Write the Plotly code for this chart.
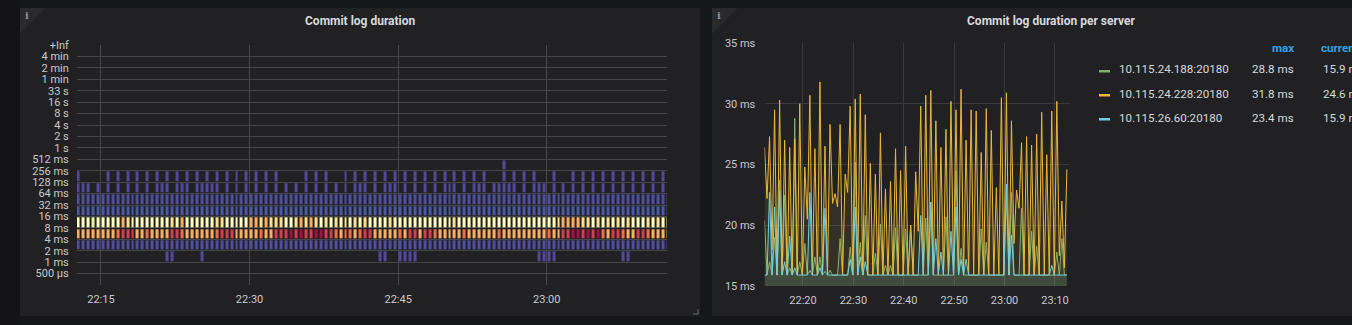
import plotly.graph_objects as go
from datetime import datetime, timedelta

# ---------------- DATA ----------------
# Heatmap y-axis bucket labels (index 0 .. 20)
BUCKET_LABELS = ["500 µs", "1 ms", "2 ms", "4 ms", "8 ms", "16 ms", "32 ms", "64 ms",
                 "128 ms", "256 ms", "512 ms", "1 s", "2 s", "4 s", "8 s", "16 s",
                 "33 s", "1 min", "2 min", "4 min", "+Inf"]

HEAT_START = datetime(2019, 5, 20, 22, 12, 41)   # first column (30 s columns)
HEAT_STEP_S = 30

# per-column level codes for each bucket row ('.' = empty cell)
ROW_2_1MS = ".......... ........00 .....0.... .......... .......... .......... .00..0000. .......... .......... ...0000... .......... 00........"
ROW_4_2MS = "1111111111 1111111111 1111111111 1111111111 1111111111 1111111111 1111111111 1111111111 1111111111 1111111111 1111111111 1111111111"
ROW_8_4MS = "7777777789 9977877779 9877777789 9977777877 999a9a99aa 9987887899 7777787997 9987777787 7777787777 7777787799 aa9a9a8799 8779987777"
ROW_16_8MS = "5554555557 6555555556 5755555566 5555577676 6655676765 6565656565 5556555555 5555556555 5555555555 5555555677 7766565656 5655565656"
ROW_32_16MS = "2222222222 2222222222 2222222222 2222222222 2222222222 2222222222 2222222222 2222222222 2222222222 2222222222 2222222222 2222222222"
ROW_64_32MS = "1111111111 1111111111 1111111111 1111111111 1111111111 1111111111 1111111111 1111111111 1111111111 1111111111 1111111111 1111111111"
ROW_128_64MS = "000.0.0.0. 0.0.0.000. 000.00000. 0.0.0.0.0. 0.0.0.0.0. 0.0.0.000. 0.000.0.0. 0.0.000.0. 000.00000. 0.000.0.0. 0.0.0.0.0. 0.0.0.0.0."
ROW_256_128MS = "0.....0.0. 0.0.0.0.0. 0.0.0.0.0. 0.0.0.0.0. 0.....0.0. 0...0.0.0. 0.0.0.0.0. 0.0.0.0.0. 0.0...0.0. 0.0...0... 0.0.0.0.0. 0.0.0.0.0."
ROW_512_256MS = ".......... .......... .......... .......... .......... .......... .......... .......... ......0... .......... .......... .........."

ROW_CENTERS = [1.5, 2.5, 3.5, 4.5, 5.5, 6.5, 7.5, 8.5, 9.5]
ROW_CODES = [ROW_2_1MS, ROW_4_2MS, ROW_8_4MS, ROW_16_8MS, ROW_32_16MS,
             ROW_64_32MS, ROW_128_64MS, ROW_256_128MS, ROW_512_256MS]
LEVEL_VALUE = {"0": 0.0, "1": 0.01, "2": 0.025, "4": 0.42, "5": 0.5, "6": 0.6,
               "7": 0.7, "8": 0.8, "9": 0.9, "a": 0.98}

# Spectral (reversed) colour scheme
SPECTRAL = ["#54489a", "#3288bd", "#66c2a5", "#abdda4", "#e6f598", "#ffffbf",
            "#fee08b", "#fdae61", "#f46d43", "#d53e4f", "#9e0142"]

# Time series (30 s steps)
TS_START = datetime(2019, 5, 20, 22, 12, 22)
TS_STEP_S = 30
SERIES_NAMES = ["10.115.24.188:20180", "10.115.24.228:20180", "10.115.26.60:20180"]
SERIES_COLORS = ["#7eb26d", "#eab839", "#6ed0e0"]
SERIES_MAX = ["28.8 ms", "31.8 ms", "23.4 ms"]
SERIES_CURRENT = ["15.9 ms", "24.6 ms", "15.9 ms"]

GREEN = [20.4, 15.9, 17.0, 15.9, 19.0, 15.9, 23.7, 15.9, 22.5, 15.9,
         16.5, 15.9, 28.8, 15.9, 17.0, 15.9, 18.5, 15.9, 16.3, 15.9,
         17.4, 15.9, 17.4, 15.9, 16.2, 15.9, 16.3, 15.9, 15.9, 15.9,
         18.9, 15.9, 15.9, 15.9, 18.2, 15.9, 25.2, 15.9, 18.6, 15.9,
         20.8, 15.9, 15.9, 15.9, 17.7, 15.9, 20.1, 15.9, 16.7, 15.9,
         16.7, 15.9, 19.8, 15.9, 15.9, 15.9, 19.7, 15.9, 20.0, 15.9,
         15.9, 15.9, 15.9, 15.9, 20.6, 15.9, 21.9, 15.9, 15.9, 15.9,
         15.9, 15.9, 20.7, 15.9, 15.9, 15.9, 24.5, 15.9, 18.1, 15.9,
         15.9, 15.9, 15.9, 15.9, 15.9, 15.9, 19.7, 15.9, 18.6, 15.9,
         15.9, 15.9, 15.9, 15.9, 15.9, 15.9, 23.0, 15.9, 22.7, 15.9,
         15.9, 15.9, 21.4, 15.9, 15.9, 15.9, 19.5, 15.9, 18.3, 15.9,
         15.9, 15.9, 15.9, 15.9, 15.9, 15.9, 17.8, 15.9, 18.9, 15.9,
         15.9]

YELLOW = [26.4, 22.2, 27.3, 18.0, 29.5, 15.9, 30.3, 15.9, 27.0, 15.9,
          26.4, 15.9, 27.1, 15.9, 30.0, 15.9, 24.8, 20.5, 30.7, 15.9,
          26.3, 15.9, 31.8, 15.9, 26.5, 15.9, 28.3, 21.8, 22.6, 21.5,
          28.3, 15.9, 24.2, 22.7, 29.8, 15.9, 30.4, 15.9, 30.8, 15.9,
          29.1, 15.9, 25.1, 15.9, 24.2, 15.9, 27.6, 15.9, 23.0, 15.9,
          23.6, 15.9, 26.3, 15.9, 24.5, 15.9, 26.5, 15.9, 20.0, 15.9,
          24.4, 19.5, 29.8, 15.9, 30.7, 15.9, 31.1, 15.9, 28.6, 15.9,
          26.4, 15.9, 27.9, 15.9, 30.2, 15.9, 29.5, 15.9, 31.2, 15.9,
          27.0, 15.9, 29.5, 15.9, 29.4, 15.9, 26.0, 15.9, 29.6, 15.9,
          27.8, 15.9, 23.1, 15.9, 30.5, 15.9, 30.9, 15.9, 28.6, 18.5,
          22.9, 21.4, 26.8, 15.9, 27.3, 15.9, 26.6, 15.9, 27.5, 15.9,
          29.3, 15.9, 25.8, 15.9, 29.4, 15.9, 30.2, 17.5, 22.0, 16.5,
          24.6]

CYAN = [15.9, 15.9, 22.7, 15.9, 21.5, 15.9, 22.8, 15.9, 17.0, 15.9,
        19.1, 15.9, 16.5, 15.9, 15.9, 15.9, 15.9, 15.9, 22.7, 15.9,
        15.9, 15.9, 16.5, 15.9, 21.4, 15.9, 15.9, 15.9, 15.9, 15.9,
        15.9, 15.9, 15.9, 15.9, 17.2, 15.9, 21.5, 15.9, 17.4, 15.9,
        17.0, 15.9, 15.9, 15.9, 15.9, 15.9, 15.9, 15.9, 15.9, 15.9,
        15.9, 15.9, 15.9, 15.9, 15.9, 15.9, 15.9, 15.9, 15.9, 15.9,
        15.9, 15.9, 20.8, 15.9, 15.9, 15.9, 21.9, 15.9, 18.9, 15.9,
        17.8, 15.9, 15.9, 15.9, 19.5, 15.9, 21.5, 15.9, 17.2, 15.9,
        17.2, 15.9, 15.9, 15.9, 15.9, 15.9, 15.9, 15.9, 15.9, 15.9,
        15.9, 15.9, 15.9, 15.9, 15.9, 15.9, 23.4, 15.9, 19.2, 15.9,
        15.9, 15.9, 15.9, 15.9, 15.9, 15.9, 15.9, 15.9, 15.9, 15.9,
        15.9, 15.9, 15.9, 15.9, 16.7, 15.9, 15.9, 15.9, 15.9, 15.9,
        15.9]

# ---------------- BUILD ----------------
W, H = 1352, 325
PAGE_BG = "#161719"
PANEL_BG = "#212124"
TEXT = "#c8c9ca"
FONT = "Roboto, Helvetica Neue, Arial, sans-serif"


def fx(x):
    return x / W


def fy(y):
    return 1 - y / H


rows = [code.replace(" ", "") for code in ROW_CODES]
n_cols = len(rows[0])
heat_x = [HEAT_START + timedelta(seconds=HEAT_STEP_S * k) for k in range(n_cols)]
heat_z = [[(LEVEL_VALUE[c] if c != "." else None) for c in r] for r in rows]
colorscale = [[i / (len(SPECTRAL) - 1), c] for i, c in enumerate(SPECTRAL)]

ts_x = [TS_START + timedelta(seconds=TS_STEP_S * k) for k in range(len(YELLOW))]

fig = go.Figure()

fig.add_trace(go.Heatmap(
    x=heat_x, y=ROW_CENTERS, z=heat_z, colorscale=colorscale, zmin=0, zmax=1,
    showscale=False, xgap=2, ygap=2, hoverinfo="skip", xaxis="x", yaxis="y"))

for name, col, vals in [(SERIES_NAMES[0], SERIES_COLORS[0], GREEN),
                        (SERIES_NAMES[1], SERIES_COLORS[1], YELLOW),
                        (SERIES_NAMES[2], SERIES_COLORS[2], CYAN)]:
    r, g, b = int(col[1:3], 16), int(col[3:5], 16), int(col[5:7], 16)
    fig.add_trace(go.Scatter(
        x=ts_x, y=vals, mode="lines", name=name, line=dict(color=col, width=1),
        fill="tozeroy", fillcolor=f"rgba({r},{g},{b},0.1)", hoverinfo="skip",
        xaxis="x2", yaxis="y2", showlegend=False))

shapes = []
# left page shadow
shapes.append(dict(type="rect", xref="paper", yref="paper", x0=0, x1=fx(20), y0=0, y1=1,
                   fillcolor="#141416", line=dict(width=0), layer="below"))
# panels
shapes.append(dict(type="rect", xref="paper", yref="paper", x0=fx(20), x1=fx(700),
                   y0=fy(316), y1=fy(8), fillcolor=PANEL_BG, line=dict(width=0), layer="below"))
shapes.append(dict(type="rect", xref="paper", yref="paper", x0=fx(712), x1=fx(1400),
                   y0=fy(316), y1=fy(8), fillcolor=PANEL_BG, line=dict(width=0), layer="below"))
# info corners
for px0 in (20, 712):
    shapes.append(dict(type="path", xref="paper", yref="paper",
                       path=f"M {fx(px0)},{fy(8)} L {fx(px0 + 26)},{fy(8)} L {fx(px0)},{fy(34)} Z",
                       fillcolor="#2a2a2d", line=dict(width=0), layer="below"))
# resize handle (bottom-right of left panel)
shapes.append(dict(type="path", xref="paper", yref="paper",
                   path=f"M {fx(698)},{fy(309)} L {fx(698)},{fy(314)} L {fx(693)},{fy(314)}",
                   line=dict(color="#6a6a6e", width=1)))


def ann(text, x, y, size=11.6, color="#d8d9da", xanchor="center", family=FONT):
    return dict(text=text, x=fx(x), y=fy(y), xref="paper", yref="paper",
                xanchor=xanchor, yanchor="middle", showarrow=False,
                font=dict(size=size, color=color, family=family))


annotations = []
annotations.append(ann("<b>Commit log duration</b>", 360, 21, size=12))
annotations.append(ann("<b>Commit log duration per server</b>", 1051, 21, size=12))
for px0 in (27, 719):
    annotations.append(ann("<b>i</b>", px0, 16, size=10, color="#8e9094", family="DejaVu Serif"))

# legend table
annotations.append(ann("<b>max</b>", 1296, 48, color="#33a2e5", xanchor="right"))
annotations.append(ann("<b>current</b>", 1319, 48, color="#33a2e5", xanchor="left"))
row_y = [69.5, 93.5, 117.5]
for i in range(3):
    yy = row_y[i]
    shapes.append(dict(type="rect", xref="paper", yref="paper", x0=fx(1099), x1=fx(1110),
                       y0=fy(yy + 3), y1=fy(yy + 0.5), fillcolor=SERIES_COLORS[i], line=dict(width=0)))
    annotations.append(ann(SERIES_NAMES[i], 1117, yy, xanchor="left"))
    annotations.append(ann(SERIES_MAX[i], 1296, yy, xanchor="right"))
    annotations.append(ann(SERIES_CURRENT[i], 1321, yy, xanchor="left"))

tick_font = dict(size=11, color=TEXT, family=FONT)

fig.update_layout(
    width=W, height=H, margin=dict(l=0, r=0, t=0, b=0, pad=0, autoexpand=False),
    paper_bgcolor=PAGE_BG, plot_bgcolor=PANEL_BG, showlegend=False,
    shapes=shapes, annotations=annotations,
    xaxis=dict(domain=[fx(77), fx(667)], type="date",
               range=[datetime(2019, 5, 20, 22, 12, 35), datetime(2019, 5, 20, 23, 12, 8)],
               tickformat="%H:%M", tick0=datetime(2019, 5, 20, 22, 0), dtick=15 * 60 * 1000,
               showgrid=True, gridcolor="#46464a", gridwidth=1, zeroline=False, showline=False,
               ticks="outside", ticklen=4, tickcolor=PANEL_BG, tickfont=tick_font, anchor="y",
               automargin=False),
    yaxis=dict(domain=[fy(285), fy(45)], range=[-1, 20], tickvals=list(range(-1, 21)),
               ticktext=[""] + BUCKET_LABELS, showgrid=True, gridcolor="#46464a", gridwidth=1,
               zeroline=False, showline=False, ticks="outside", ticklen=5, tickcolor=PANEL_BG,
               tickfont=tick_font, anchor="x", automargin=False),
    xaxis2=dict(domain=[fx(764.5), fx(1069)], type="date",
                range=[datetime(2019, 5, 20, 22, 12, 22), datetime(2019, 5, 20, 23, 12, 47)],
                tickformat="%H:%M", tick0=datetime(2019, 5, 20, 22, 0), dtick=10 * 60 * 1000,
                showgrid=True, gridcolor="#3a3a3e", gridwidth=1, zeroline=False, showline=False,
                ticks="outside", ticklen=4, tickcolor=PANEL_BG, tickfont=tick_font, anchor="y2",
                automargin=False),
    yaxis2=dict(domain=[fy(286), fy(43)], range=[15, 35], dtick=5, ticksuffix=" ms",
                showgrid=True, gridcolor="#3a3a3e", gridwidth=1, zeroline=False, showline=False,
                ticks="outside", ticklen=6, tickcolor=PANEL_BG, tickfont=tick_font, anchor="x2",
                automargin=False),
)

fig.write_html("out.html")
